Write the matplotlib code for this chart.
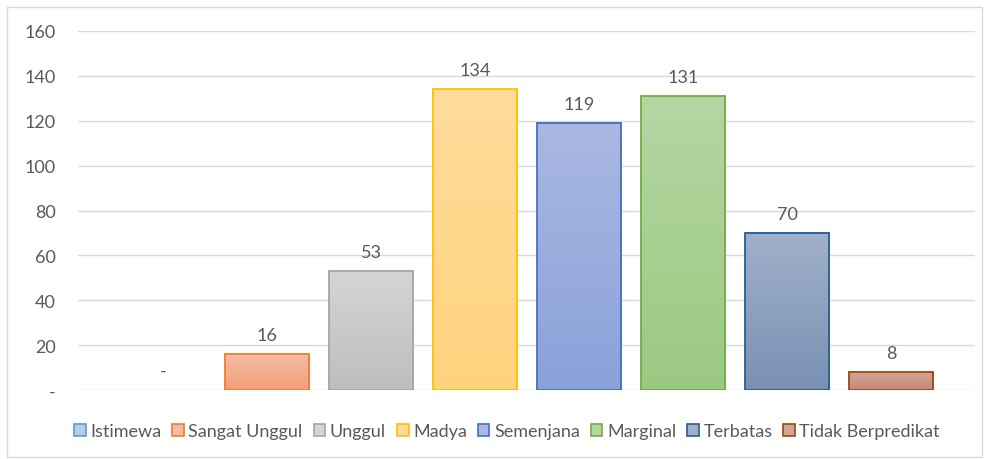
import numpy as np
import matplotlib.pyplot as plt
from matplotlib.patches import Rectangle
from matplotlib.colors import LinearSegmentedColormap

categories = ["Istimewa", "Sangat Unggul", "Unggul", "Madya", "Semenjana",
              "Marginal", "Terbatas", "Tidak Berpredikat"]
values = [0, 16, 53, 134, 119, 131, 70, 8]
yticks = [0, 20, 40, 60, 80, 100, 120, 140, 160]
ytick_labels = ["-", "20", "40", "60", "80", "100", "120", "140", "160"]

edge_colors = ["#5B9BD5", "#ED7D31", "#A5A5A5", "#FFC000", "#4472C4",
               "#70AD47", "#255E91", "#9E480E"]
fill_top = ["#B4CDEB", "#F5BCA3", "#D5D5D5", "#FFDC9B", "#AAB8E2",
            "#B5D6A3", "#A0B0CA", "#D2A596"]
fill_bottom = ["#8FB6E3", "#F3A07A", "#BEBEBE", "#FFD37E", "#8AA1D9",
               "#9BC982", "#7A91B4", "#C38878"]

plt.rcParams['font.family'] = ['Lato', 'DejaVu Sans']
text_color = "#595959"

fig = plt.figure(figsize=(9.89, 4.60), dpi=100)
ax = fig.add_axes([78 / 989, 1 - 391 / 460, (975 - 78) / 989, (391 - 32) / 460])

x = np.arange(len(categories))
width = 0.81
grad = np.linspace(0, 1, 100).reshape(-1, 1)
for i, v in enumerate(values):
    if v > 0:
        cmap = LinearSegmentedColormap.from_list("g", [fill_bottom[i], fill_top[i]])
        ax.imshow(grad, cmap=cmap, aspect="auto", origin="lower",
                  extent=[x[i] - width / 2, x[i] + width / 2, 0, v], zorder=2)
        ax.add_patch(Rectangle((x[i] - width / 2, 0), width, v, fill=False,
                               edgecolor=edge_colors[i], linewidth=1.3, zorder=3))
    label = str(v) if v > 0 else "-"
    ax.annotate(label, (x[i], v), xytext=(0, 8), textcoords="offset points",
                ha="center", va="bottom", fontsize=13, color=text_color)

ax.set_xlim((78 - 163) / 104, (975 - 163) / 104)
ax.set_ylim(0, 160)
ax.set_yticks(yticks)
ax.set_yticklabels(ytick_labels, fontsize=13, color=text_color)
ax.set_xticks([])
ax.tick_params(axis="y", length=0, pad=16)
ax.grid(axis="y", color="#D9D9D9", linewidth=1)
ax.set_axisbelow(True)
for s in ax.spines.values():
    s.set_visible(False)

handles = [Rectangle((0, 0), 1, 1, facecolor=fill_top[i], edgecolor=edge_colors[i],
                     linewidth=1.2) for i in range(len(categories))]
fig.legend(handles, categories, loc="center", bbox_to_anchor=(507 / 989, 1 - 432 / 460),
           ncol=8, frameon=False, fontsize=13, labelcolor=text_color,
           handlelength=0.65, handleheight=0.65, handletextpad=0.25, columnspacing=0.6)

fig.patches.append(Rectangle((7 / 989, 1 - 458 / 460), 975 / 989, 450 / 460,
                             transform=fig.transFigure, fill=False,
                             edgecolor="#D9D9D9", linewidth=1))

fig.savefig("out.png", dpi=100)
